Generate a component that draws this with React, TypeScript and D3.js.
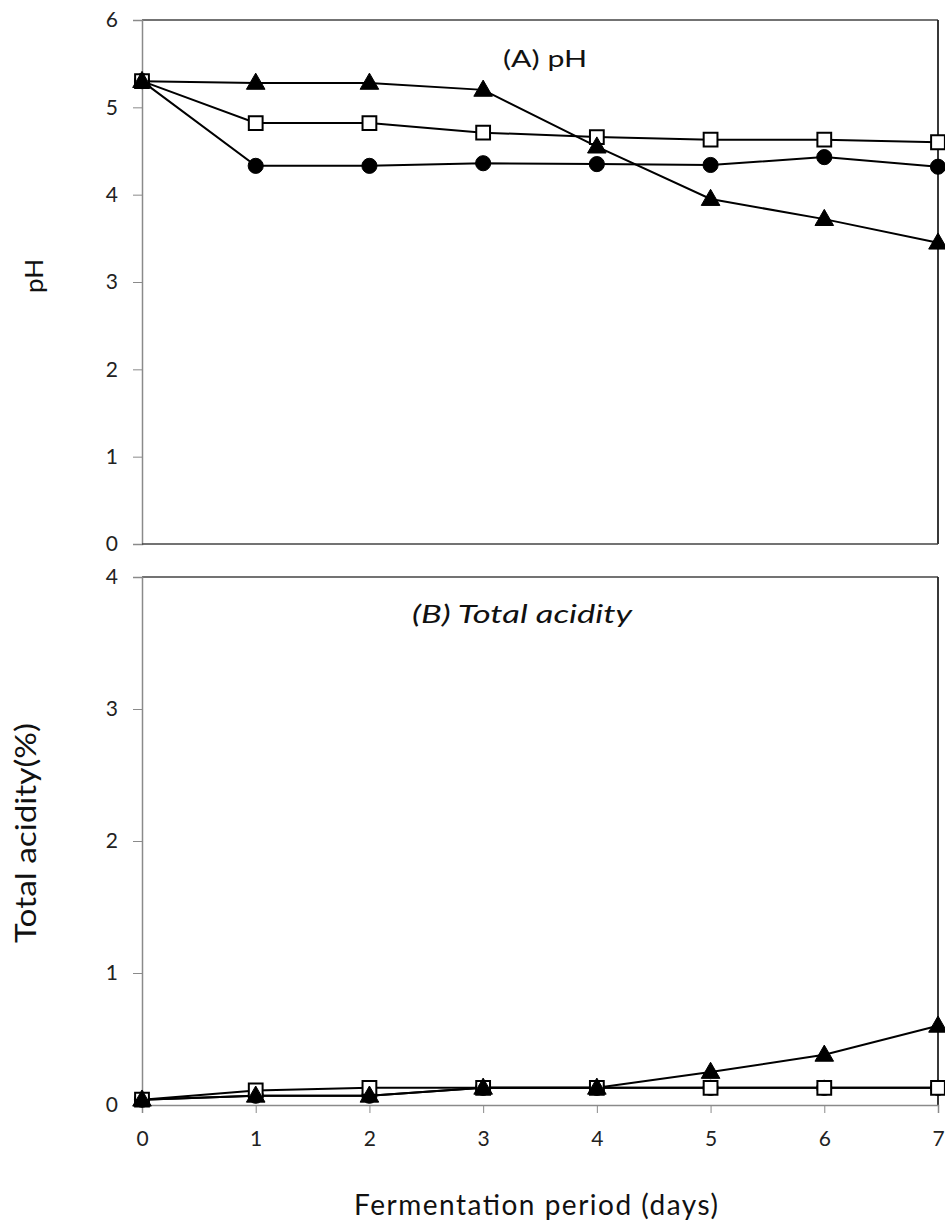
import React, { useEffect, useRef } from "react";
import * as d3 from "d3";

// --- data ---
const days = [0, 1, 2, 3, 4, 5, 6, 7];

const phCircle = [5.3, 4.33, 4.33, 4.36, 4.35, 4.34, 4.43, 4.32];
const phSquare = [5.3, 4.82, 4.82, 4.71, 4.66, 4.63, 4.63, 4.6];
const phTriangle = [5.3, 5.28, 5.28, 5.2, 4.55, 3.95, 3.72, 3.45];

const acCircle = [0.04, 0.07, 0.07, 0.13, 0.13, 0.13, 0.13, 0.13];
const acSquare = [0.04, 0.11, 0.13, 0.13, 0.13, 0.13, 0.13, 0.13];
const acTriangle = [0.04, 0.07, 0.07, 0.13, 0.13, 0.25, 0.38, 0.6];

const phTicks = [0, 1, 2, 3, 4, 5, 6];
const acTicks = [0, 1, 2, 3, 4];

const FONT = "Lato, 'Open Sans', sans-serif";

export default function App() {
  const svgRef = useRef<SVGSVGElement | null>(null);

  useEffect(() => {
    const width = 945;
    const height = 1222;
    const svg = d3.select(svgRef.current).attr("width", width).attr("height", height);
    svg.selectAll("*").remove();

    const left = 142;
    const right = 938;

    const x = d3.scaleLinear().domain([0, 7]).range([left, right]);

    function panel(opts: {
      top: number;
      bottom: number;
      max: number;
      ticks: number[];
      series: { values: number[]; shape: string }[];
      title: string;
      italic: boolean;
      titleX: number;
      titleY: number;
      titleSize: number;
      titleLen: number;
      ylabel: string;
      ylabelX: number;
      ylabelY: number;
      ylabelSize: number;
      ylabelLen: number;
      xTicks: boolean;
    }) {
      const y = d3.scaleLinear().domain([0, opts.max]).range([opts.bottom, opts.top]);
      const g = svg.append("g");

      // plot frame: top + right
      g.append("line")
        .attr("x1", left).attr("x2", right)
        .attr("y1", opts.top).attr("y2", opts.top)
        .attr("stroke", "#444").attr("stroke-width", 1.5);
      g.append("line")
        .attr("x1", right).attr("x2", right)
        .attr("y1", opts.top).attr("y2", opts.bottom)
        .attr("stroke", "#222").attr("stroke-width", 1.8);

      // y axis
      const yAxis = d3.axisLeft(y).tickValues(opts.ticks).tickSize(9).tickPadding(15).tickFormat(d3.format("d"));
      const ya = g.append("g").attr("transform", `translate(${left},0)`).call(yAxis);
      ya.attr("font-size", 21).attr("font-family", FONT);
      ya.select(".domain").attr("stroke", "#8a8a8a").attr("stroke-width", 1.5);
      ya.selectAll(".tick line").attr("stroke", "#8a8a8a");
      ya.selectAll(".tick text").attr("fill", "#222");

      // x axis
      if (opts.xTicks) {
        const xAxis = d3.axisBottom(x).tickValues(days).tickSize(8).tickPadding(18).tickFormat(d3.format("d"));
        const xa = g.append("g").attr("transform", `translate(0,${opts.bottom})`).call(xAxis);
        xa.attr("font-size", 21).attr("font-family", FONT);
        xa.select(".domain").attr("stroke", "#8a8a8a").attr("stroke-width", 1.5);
        xa.selectAll(".tick line").attr("stroke", "#8a8a8a");
        xa.selectAll(".tick text").attr("fill", "#222");
      } else {
        g.append("line")
          .attr("x1", left).attr("x2", right)
          .attr("y1", opts.bottom).attr("y2", opts.bottom)
          .attr("stroke", "#444").attr("stroke-width", 1.5);
      }

      // series
      const line = d3.line<number>().x((_, i) => x(days[i])).y(d => y(d));
      opts.series.forEach(s => {
        g.append("path")
          .datum(s.values)
          .attr("d", line)
          .attr("fill", "none")
          .attr("stroke", "#000")
          .attr("stroke-width", 2);
      });
      opts.series.forEach(s => {
        const sym =
          s.shape === "circle" ? d3.symbol(d3.symbolCircle, 180)
          : s.shape === "square" ? d3.symbol(d3.symbolSquare, 190)
          : d3.symbol(d3.symbolTriangle, 150);
        g.selectAll(null)
          .data(s.values)
          .join("path")
          .attr("transform", (d, i) => `translate(${x(days[i])},${y(d) + (s.shape === "triangle" ? 1 : 0)})`)
          .attr("d", sym)
          .attr("fill", s.shape === "square" ? "#fff" : "#000")
          .attr("stroke", "#000")
          .attr("stroke-width", s.shape === "square" ? 2 : 1);
      });

      // panel title
      g.append("text")
        .attr("x", opts.titleX).attr("y", opts.titleY)
        .attr("text-anchor", "middle")
        .attr("font-family", FONT).attr("font-size", opts.titleSize)
        .attr("font-style", opts.italic ? "italic" : "normal")
        .attr("textLength", opts.titleLen)
        .attr("lengthAdjust", "spacingAndGlyphs")
        .attr("fill", "#111")
        .text(opts.title);

      // y label
      g.append("text")
        .attr("transform", `translate(${opts.ylabelX},${opts.ylabelY}) rotate(-90)`)
        .attr("text-anchor", "middle")
        .attr("font-family", FONT).attr("font-size", opts.ylabelSize)
        .attr("textLength", opts.ylabelLen)
        .attr("lengthAdjust", "spacingAndGlyphs")
        .attr("fill", "#111")
        .text(opts.ylabel);
    }

    panel({
      top: 20, bottom: 544, max: 6, ticks: phTicks,
      series: [
        { values: phCircle, shape: "circle" },
        { values: phSquare, shape: "square" },
        { values: phTriangle, shape: "triangle" },
      ],
      title: "(A) pH", italic: false, titleX: 545, titleY: 67, titleSize: 23, titleLen: 84,
      ylabel: "pH", ylabelX: 43, ylabelY: 276, ylabelSize: 25, ylabelLen: 34, xTicks: false,
    });

    panel({
      top: 577, bottom: 1105, max: 4, ticks: acTicks,
      series: [
        { values: acCircle, shape: "circle" },
        { values: acSquare, shape: "square" },
        { values: acTriangle, shape: "triangle" },
      ],
      title: "(B) Total acidity", italic: true, titleX: 522, titleY: 623, titleSize: 25, titleLen: 220,
      ylabel: "Total acidity(%)", ylabelX: 36, ylabelY: 833, ylabelSize: 29, ylabelLen: 220, xTicks: true,
    });

    svg.append("text")
      .attr("x", 536).attr("y", 1215)
      .attr("text-anchor", "middle")
      .attr("font-family", FONT).attr("font-size", 28)
      .attr("textLength", 364)
      .attr("lengthAdjust", "spacing")
      .attr("fill", "#111")
      .text("Fermentation period (days)");
  }, []);

  return (
    <svg
      ref={svgRef}
      style={{ position: "absolute", left: 0, top: 0, background: "#fff" }}
    />
  );
}
